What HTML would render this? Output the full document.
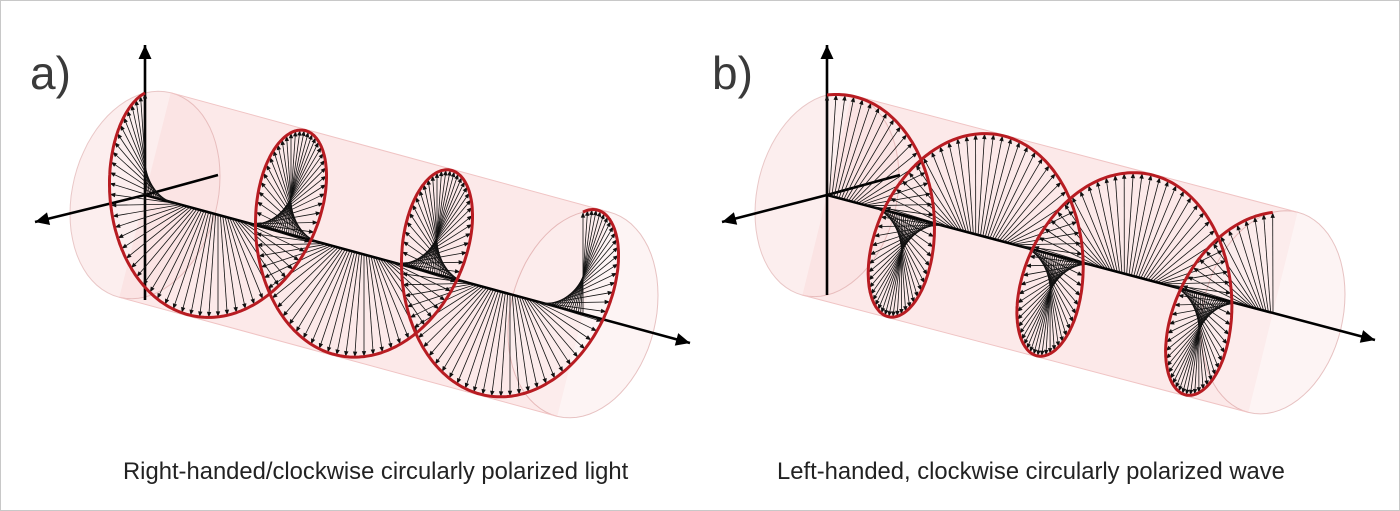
<!DOCTYPE html>
<html><head><meta charset="utf-8"><style>
html,body{margin:0;padding:0;background:#fff;}
#w{position:relative;width:1400px;height:511px;overflow:hidden;background:#fff;}
#w .b{position:absolute;left:0;top:0;width:1398px;height:509px;border:1px solid #c8c8c8;}
.lab{position:absolute;font-family:"Liberation Sans",sans-serif;color:#3a3a3a;font-size:46px;}
.cap{position:absolute;font-family:"Liberation Sans",sans-serif;color:#222;font-size:23.8px;top:458px;white-space:nowrap;}
svg{position:absolute;left:0;top:0;}
</style></head><body><div id="w"><div class="b"></div>
<svg id="s" width="1400" height="511" viewBox="0 0 1400 511"></svg>
<div class="lab" style="left:30px;top:46px">a)</div>
<div class="lab" style="left:712px;top:46px">b)</div>
<div class="cap" style="left:123px">Right-handed/clockwise circularly polarized light</div>
<div class="cap" style="left:777px">Left-handed, clockwise circularly polarized wave</div>
</div>
<script>
var S=document.getElementById('s'),out='';
function f(n){return n.toFixed(1);}
function arrowHead(x1,y1,x2,y2,L,W,col){var dx=x2-x1,dy=y2-y1,l=Math.hypot(dx,dy)||1;dx/=l;dy/=l;
var bx=x2-dx*L,by=y2-dy*L;return '<polygon points="'+f(x2)+','+f(y2)+' '+f(bx-dy*W)+','+f(by+dx*W)+' '+f(bx+dy*W)+','+f(by-dx*W)+'" fill="'+col+'"/>';}
function panel(O,slope,sEnd,P,R,Rd,Rh,sign,axes){
 function A(s){return [O[0]+s,O[1]+slope*s];}
 var D=[sign*1,sign*-0.25];
 function ptr(s,phi,rd){var a=A(s);return [a[0]+rd*Math.sin(phi)*D[0],a[1]-R*Math.cos(phi)+rd*Math.sin(phi)*D[1]];}
 function pt(s,phi){return ptr(s,phi,Rh);}
 function ell(s){var a=[],i;for(i=0;i<=72;i++){var t=i/72*2*Math.PI;a.push(ptr(s,t,Rd));}return a;}
 var nx=-slope,ny=1,nl=Math.hypot(nx,ny);nx/=nl;ny/=nl;
 function ext(s){var e=ell(s),mn=1e9,mx=-1e9,pm,pM;e.forEach(function(p){var d=p[0]*nx+p[1]*ny;if(d<mn){mn=d;pm=p;}if(d>mx){mx=d;pM=p;}});return [pm,pM];}
 var e0=ext(0),e1=ext(sEnd);
 var ep=function(s){return ell(s).map(function(p){return f(p[0])+','+f(p[1]);}).join(' ');};
 out+='<polygon points="'+f(e0[0][0])+','+f(e0[0][1])+' '+f(e1[0][0])+','+f(e1[0][1])+' '+f(e1[1][0])+','+f(e1[1][1])+' '+f(e0[1][0])+','+f(e0[1][1])+'" fill="#fbe1e1" opacity="0.75"/>';
 out+='<polygon points="'+ep(0)+'" fill="#fbe1e1" opacity="0.55" stroke="#d89a9a" stroke-width="1"/>';
 out+='<polygon points="'+ep(sEnd)+'" fill="#fdeeee" opacity="0.6" stroke="#d89a9a" stroke-width="1"/>';
 out+='<line x1="'+f(e0[0][0])+'" y1="'+f(e0[0][1])+'" x2="'+f(e1[0][0])+'" y2="'+f(e1[0][1])+'" stroke="#f0c4c4" stroke-width="1"/>';
 out+='<line x1="'+f(e0[1][0])+'" y1="'+f(e0[1][1])+'" x2="'+f(e1[1][0])+'" y2="'+f(e1[1][1])+'" stroke="#f0c4c4" stroke-width="1"/>';
 axes.forEach(function(a){out+='<line x1="'+f(a[0])+'" y1="'+f(a[1])+'" x2="'+f(a[2])+'" y2="'+f(a[3])+'" stroke="#000" stroke-width="2.6"/>';if(a[4])out+=arrowHead(a[0],a[1],a[2],a[3],14,6.5,'#000');});
 var N=Math.round(sEnd/P*62);
 for(var i=0;i<=N;i++){var s=sEnd*i/N,phi=2*Math.PI*s/P,a=A(s),p=pt(s,phi);
  var dx=p[0]-a[0],dy=p[1]-a[1],l=Math.hypot(dx,dy);var ex=p[0]-dx/l*4,ey=p[1]-dy/l*4;
  out+='<line x1="'+f(a[0])+'" y1="'+f(a[1])+'" x2="'+f(ex)+'" y2="'+f(ey)+'" stroke="#111" stroke-width="0.8"/>'+arrowHead(a[0],a[1],p[0],p[1],5.5,2.2,'#111');}
 var h=[];for(var j=0;j<=700;j++){var s2=sEnd*j/700;var q=pt(s2,2*Math.PI*s2/P);h.push(f(q[0])+','+f(q[1]));}
 out+='<polyline points="'+h.join(' ')+'" fill="none" stroke="#b81c22" stroke-width="3"/>';
}
panel([145,195],0.272,438,146,102,75,68,-1,[
 [145,300,145,45,1],[145,195,35,222,1],[145,195,218,175,0],[145,195,690,343,1]]);
panel([827,195],0.263,446,148.7,100,72,66,1,[
 [827,295,827,45,1],[827,195,722,222,1],[827,195,900,175,0],[827,195,1375,340,1]]);
S.innerHTML=out;
</script></body></html>
